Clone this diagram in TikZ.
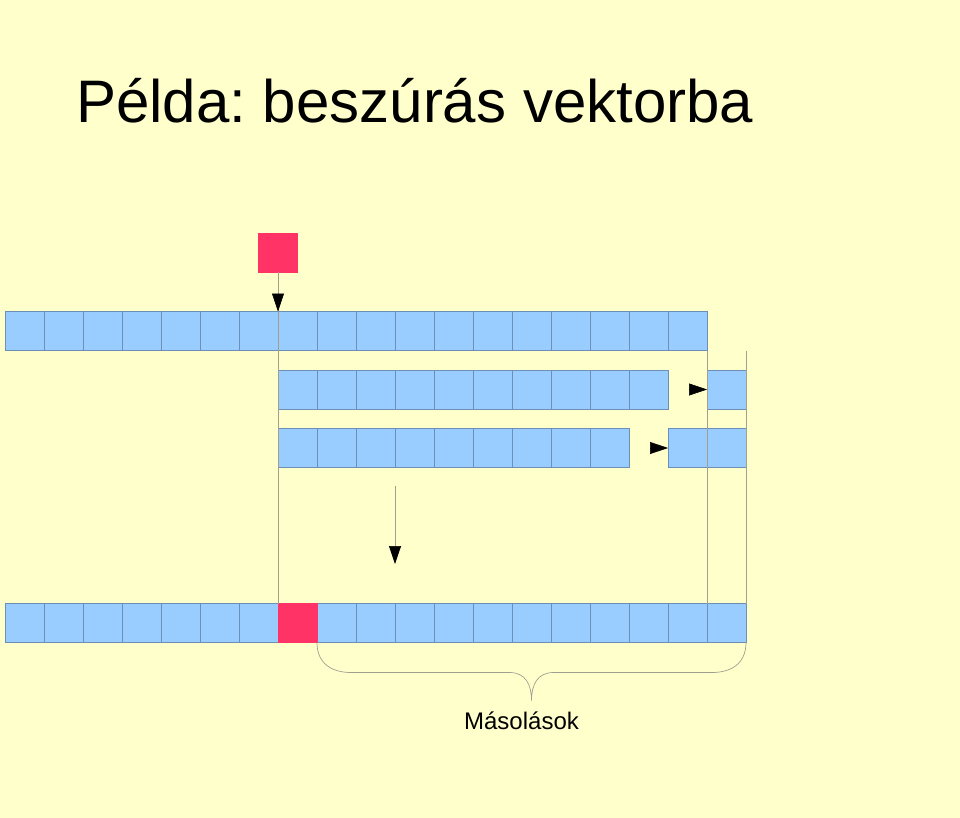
\documentclass[tikz,border=0pt]{standalone}
\usepackage{fontspec}
\setmainfont{Liberation Sans}
\usetikzlibrary{arrows.meta,calc}
\definecolor{bg}{HTML}{FFFFCC}
\definecolor{cellblue}{HTML}{99CCFF}
\definecolor{cellline}{HTML}{6E8FB5}
\definecolor{insred}{HTML}{FF3366}
\definecolor{guidegray}{HTML}{A0A090}
\frenchspacing
\begin{document}
\begin{tikzpicture}[x=1pt,y=-1pt,
  cellbox/.style={draw=cellline, fill=cellblue, line width=0.6pt, minimum size=39pt, inner sep=0pt, outer sep=0pt},
  insbox/.style={cellbox, draw=insred, fill=insred},
  guide/.style={draw=guidegray, line width=0.7pt},
  headonly/.style={-{Triangle[length=18pt,width=12pt,color=black]}, draw=black, line width=0.6pt},
  gdarrow/.style={guide, -{Triangle[length=18pt,width=12pt,color=black]}}]
\path[fill=bg] (0,0) rectangle (960,818);
\useasboundingbox (0,0) rectangle (960,818);
% title
\node[font=\fontsize{60}{72}\selectfont, anchor=base west, inner sep=0pt] (title) at (76,122.7) {Példa: beszúrás vektorba};
% element to insert
\node[insbox] (ins) at (278,252.5) {};
% row 1
\foreach \i in {0,...,17} \node[cellbox] (r1c\i) at (24.5+39*\i,331) {};
% row 2
\foreach \i in {7,...,16,18} \node[cellbox] (r2c\i) at (24.5+39*\i,389.5) {};
% row 3
\foreach \i in {7,...,15,17,18} \node[cellbox] (r3c\i) at (24.5+39*\i,448) {};
% row 4
\foreach \i in {0,...,6,8,9,...,18} \node[cellbox] (r4c\i) at (24.5+39*\i,623) {};
\node[insbox] (r4c7) at (24.5+39*7,623) {};
% guide lines
\draw[guide] (ins.south) -- (r4c7.north west);
\draw[guide] (r1c17.south east) -- (r4c18.north west);
\draw[guide] (r1c17.south east -| r4c18.north east) -- (r4c18.north east);
% arrow heads
\draw[headonly] ($(r1c7.north west)+(0,-18)$) -- (r1c7.north west);
\draw[headonly] ($(r2c18.west)+(-18,0)$) -- (r2c18.west);
\draw[headonly] ($(r3c17.west)+(-18,0)$) -- (r3c17.west);
% middle arrow
\coordinate (m1) at (395,486);
\coordinate (m2) at (395,564);
\draw[gdarrow] (m1) -- (m2);
% brace
\coordinate (bl) at (r4c8.south west);
\coordinate (br) at (r4c18.south east);
\coordinate (bt) at ($(bl)!0.5!(br)+(0,58)$);
\draw[guide] (bl) .. controls +(0,22) and +(-18,0) .. ($(bl)+(34,30)$)
  -- ($(bt)+(-22,-28)$) .. controls +(16,0) and +(0,-16) .. (bt)
  .. controls +(0,-16) and +(-16,0) .. ($(bt)+(22,-28)$)
  -- ($(br)+(-34,30)$) .. controls +(18,0) and +(0,22) .. (br);
% label
\node[font=\fontsize{24}{28}\selectfont, anchor=base, inner sep=0pt] (lbl) at (521.5,729) {Másolások};
\end{tikzpicture}
\end{document}
